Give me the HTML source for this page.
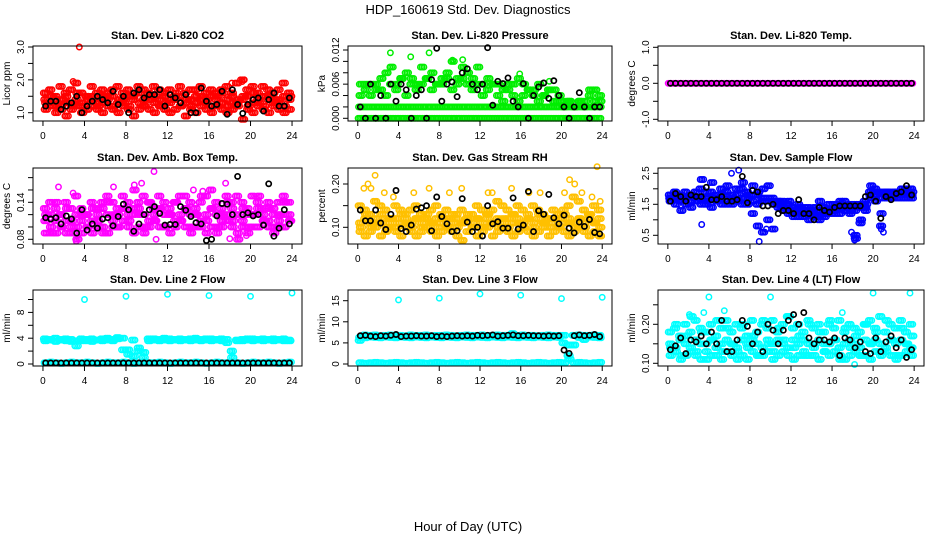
<!DOCTYPE html>
<html><head><meta charset="utf-8"><style>
html,body{margin:0;padding:0;background:#fff;}
svg{display:block;font-family:"Liberation Sans",sans-serif;}
</style></head><body>
<svg id="chart" width="936" height="540" viewBox="0 0 936 540">
<text x="468" y="14" text-anchor="middle" font-size="13">HDP_160619  Std. Dev. Diagnostics</text>
<text x="468" y="531" text-anchor="middle" font-size="13">Hour of Day (UTC)</text>
</svg>
<script>
const hourTicks=[0,4,8,12,16,20,24];
const hourLabels=["0","4","8","12","16","20","24"];
// CO2
const co2A=[1.6,1.7,1.5,1.8,1.6,1.7,1.9,1.6,1.5,1.8,1.6,1.7,1.5,1.7,1.8,1.6,1.7,1.5,1.8,1.7,1.6,1.8,1.7,1.6,1.7,1.5,1.8,1.6,1.7,1.7,1.8,1.6,1.7,1.6,1.7,1.8,1.6,1.9,2.0,1.7,1.8,1.6,1.8,1.7,1.6,1.7,1.9,1.6];
const co2B=[1.4,1.3,1.4,1.2,1.5,1.3,1.4,1.3,1.5,1.4,1.3,1.5,1.4,1.5,1.3,1.4,1.5,1.4,1.6,1.4,1.5,1.3,1.4,1.5,1.3,1.4,1.5,1.3,1.4,1.5,1.4,1.3,1.5,1.4,1.3,1.4,1.5,1.3,1.4,1.5,1.3,1.4,1.5,1.4,1.3,1.4,1.5,1.4];
const co2C=[1.1,1.2,1.0,1.1,0.9,1.1,1.2,1.0,1.1,1.2,1.1,1.0,1.2,1.1,1.0,1.2,1.1,0.9,1.1,1.2,1.1,1.0,1.2,1.1,1.0,1.1,1.2,0.9,1.1,1.0,1.2,1.1,1.0,1.2,1.1,1.0,1.1,1.2,0.8,1.1,1.0,1.2,1.1,1.0,1.2,1.1,1.0,1.1];
const co2D=[1.3,1.5,1.2,1.4,1.3,1.2,1.6,1.2,1.4,1.5,1.2,1.3,1.6,1.2,1.4,1.3,1.2,1.6,1.3,1.2,1.4,1.5,1.2,1.3,1.4,1.6,1.2,1.4,1.2,1.3,1.5,1.4,1.2,1.5,1.6,1.2,1.3,1.4,1.5,1.2,1.6,1.3,1.2,1.5,1.4,1.3,1.2,1.5];
const co2OutHours=[3.5,2.9,18.2,19.2,19.4];
const co2OutVals=[3.0,1.95,1.9,1.95,2.0];
const co2Black=[1.2,1.35,1.35,1.1,1.2,1.3,1.5,1.0,1.2,1.35,1.5,1.4,1.3,1.65,1.25,1.5,1.0,1.6,1.7,1.45,1.55,1.55,1.7,1.2,1.55,1.45,1.3,1.55,1.0,1.0,1.75,1.35,1.2,1.25,1.65,0.95,1.7,1.25,0.98,1.25,1.4,1.45,1.05,1.4,1.6,1.2,1.2,1.45];
// Pressure
const presA=[0,0,0,0,0,0,0,0,0,0,0,0,0,0,0,0,0,0,0,0,0,0,0,0,0,0,0,0,0,0,0,0,0,0,0,0,0,0,0,0,0,0,0,0,0,0,0,0];
const presB=[.002,.002,.002,.002,.002,.002,.002,.002,.002,.002,.002,.002,.002,.002,.002,.002,.002,.002,.002,.002,.002,.002,.002,.002,.002,.002,.002,.002,.002,.002,.002,.002,.002,.002,.002,.002,.002,.002,.002,.002,.002,.002,.002,.002,.002,.002,.002,.002];
const presC=[.004,.005,.004,.006,.005,.004,.006,.005,.007,.004,.006,.005,.006,.007,.005,.006,.006,.007,.005,.006,.007,.006,.005,.006,.004,.005,.006,.004,.003,.005,.004,.003,.004,.005,.004,.003,.004,.005,.003,.003,.002,.003,.002,.003,.002,.004,.003,.004];
const presD=[.006,.006,.006,.005,.007,.008,.009,.006,.007,.008,.007,.006,.009,.007,.008,.006,.007,.008,.010,.007,.009,.008,.007,.009,.006,.007,.006,.006,.005,.006,.006,.007,.006,.005,.005,.006,.004,.005,.005,.004,.003,.003,.002,.003,.003,.005,.005,.003];
const presOutHours=[3.2,5.2,7.0,9.3,10.3,15.9,18.8];
const presOutVals=[.0115,.0108,.0115,.0102,.0103,.0078,.0065];
const presBlack=[.002,0,.006,0,.004,0,.006,.003,.006,.005,0,.004,.005,0,.0068,.0123,.003,.006,.0064,.0038,.008,.0087,.006,.005,.006,.0124,.0023,.0065,.0061,.0071,.003,.002,.0061,0,.004,.0055,.0062,.0035,.0066,.004,.002,0,.002,.0045,.002,0,.002,.002];
// Temp
const tempA=[0,0,0,0,0,0,0,0,0,0,0,0,0,0,0,0,0,0,0,0,0,0,0,0,0,0,0,0,0,0,0,0,0,0,0,0,0,0,0,0,0,0,0,0,0,0,0,0];
const tempBlack=[0,0,0,0,0,0,0,0,0,0,0,0,0,0,0,0,0,0,0,0,0,0,0,0,0,0,0,0,0,0,0,0,0,0,0,0,0,0,0,0,0,0,0,0,0,0,0,0];
// Amb box temp
const ambA=[.13,.14,.13,.12,.14,.13,.15,.13,.12,.14,.13,.14,.15,.14,.13,.15,.14,.13,.14,.15,.14,.13,.15,.14,.13,.14,.15,.15,.14,.13,.14,.15,.16,.14,.13,.15,.14,.15,.14,.13,.15,.14,.13,.14,.13,.14,.15,.14];
const ambB=[.11,.12,.11,.12,.11,.10,.12,.11,.12,.11,.12,.13,.12,.11,.12,.13,.12,.12,.13,.12,.11,.12,.13,.12,.12,.11,.12,.13,.12,.12,.11,.12,.13,.12,.11,.12,.13,.12,.11,.12,.12,.13,.12,.11,.12,.11,.12,.12];
const ambC=[.09,.10,.09,.10,.09,.09,.10,.09,.10,.09,.10,.10,.09,.10,.10,.11,.10,.09,.10,.09,.10,.11,.10,.10,.09,.10,.11,.10,.09,.10,.10,.09,.10,.09,.10,.11,.10,.09,.10,.09,.10,.10,.11,.10,.09,.10,.10,.11];
const ambD=[.12,.09,.14,.10,.13,.11,.08,.12,.10,.13,.11,.09,.14,.12,.10,.13,.11,.16,.12,.10,.14,.11,.13,.10,.12,.14,.11,.13,.10,.12,.15,.11,.13,.10,.12,.14,.11,.08,.13,.10,.12,.15,.11,.13,.10,.12,.14,.11];
const ambOutHours=[1.5,2.9,3.2,6.8,8.8,9.5,10.7,10.9,14.5,15.4,17.6,18.0,19.6];
const ambOutVals=[.165,.155,.077,.165,.168,.171,.19,.08,.16,.158,.171,.081,.086];
const ambBlack=[.115,.113,.115,.105,.118,.113,.09,.128,.095,.105,.098,.113,.115,.102,.117,.137,.128,.093,.105,.12,.128,.133,.122,.103,.104,.104,.133,.127,.117,.107,.105,.078,.08,.118,.138,.137,.12,.182,.12,.123,.118,.12,.103,.17,.085,.098,.128,.105];
// Gas stream RH
const rhA=[.15,.14,.13,.16,.15,.14,.12,.15,.14,.13,.14,.15,.13,.12,.14,.15,.13,.14,.12,.13,.14,.12,.13,.15,.14,.13,.14,.16,.15,.14,.13,.15,.14,.13,.15,.14,.13,.12,.14,.13,.14,.15,.17,.16,.14,.13,.15,.14];
const rhB=[.11,.12,.11,.12,.11,.12,.11,.12,.11,.12,.11,.12,.11,.12,.11,.12,.11,.12,.11,.12,.11,.12,.11,.12,.11,.12,.11,.12,.11,.12,.11,.12,.11,.12,.11,.12,.11,.12,.11,.12,.11,.12,.11,.12,.11,.12,.11,.12];
const rhC=[.09,.08,.09,.10,.08,.09,.10,.09,.08,.10,.09,.08,.09,.10,.09,.08,.09,.10,.09,.08,.07,.09,.10,.08,.09,.10,.08,.09,.10,.09,.08,.09,.10,.09,.08,.09,.10,.08,.09,.10,.09,.08,.09,.10,.09,.08,.09,.08];
const rhD=[.10,.13,.10,.11,.13,.10,.12,.10,.13,.11,.10,.12,.10,.13,.11,.10,.12,.10,.13,.10,.11,.13,.10,.12,.10,.13,.11,.10,.12,.10,.13,.11,.10,.12,.10,.13,.11,.10,.12,.10,.13,.11,.10,.12,.10,.13,.11,.10];
const rhOutHours=[0.6,1.0,1.3,1.7,2.6,3.5,5.5,7.0,9.0,10.2,12.8,13.2,15.1,16.8,17.9,20.3,20.8,21.3,22.0,23.0,23.5,23.8];
const rhOutVals=[.19,.20,.19,.22,.18,.17,.18,.19,.18,.19,.18,.18,.19,.18,.18,.18,.21,.20,.18,.17,.24,.16];
const rhBlack=[.14,.115,.115,.14,.11,.095,.13,.185,.097,.09,.105,.142,.145,.15,.092,.17,.125,.108,.09,.092,.166,.112,.09,.1,.08,.15,.108,.113,.098,.098,.168,.096,.105,.183,.09,.138,.13,.176,.122,.108,.128,.098,.087,.112,.102,.118,.088,.085];
// Sample flow
const sfA=[1.8,1.9,1.8,1.9,1.8,1.9,2.0,1.9,1.9,1.8,2.0,1.9,1.8,2.0,2.0,1.9,1.8,1.8,1.7,1.7,1.7,1.6,1.6,1.5,1.4,1.5,1.4,1.4,1.3,1.3,1.4,1.5,1.5,1.5,1.6,1.5,1.5,1.5,1.6,1.9,2.0,1.9,1.9,1.9,1.9,1.9,2.0,2.0];
const sfB=[1.7,1.7,1.6,1.7,1.6,1.7,1.7,1.7,1.7,1.6,1.7,1.6,1.7,1.6,1.7,1.7,1.6,1.5,1.6,1.6,1.6,1.5,1.4,1.3,1.2,1.3,1.2,1.2,1.2,1.1,1.2,1.3,1.3,1.4,1.4,1.4,1.3,1.4,1.4,1.8,1.8,1.7,1.8,1.8,1.8,1.8,1.8,1.8];
const sfC=[1.6,1.5,1.6,1.5,1.4,1.6,1.5,1.5,1.4,1.6,1.5,1.5,1.5,1.6,1.5,1.5,1.2,0.8,0.6,1.0,0.7,1.4,1.3,1.2,1.1,1.1,1.1,1.0,1.1,1.0,1.1,1.2,1.2,1.2,1.3,1.2,0.5,0.9,1.3,1.7,1.6,0.8,1.7,1.7,1.7,1.7,1.7,1.7];
const sfD=[1.7,1.8,1.3,1.7,1.8,1.7,2.3,1.6,2.2,1.7,1.8,2.1,1.6,1.8,2.2,1.8,2.1,1.9,2.0,2.1,1.5,1.6,1.4,1.6,1.3,1.4,1.3,1.3,1.4,1.6,1.2,1.3,1.4,1.6,1.4,1.3,0.4,1.0,1.5,2.1,1.9,1.2,1.9,1.8,1.9,2.0,1.9,1.9];
const sfOutHours=[3.3,6.2,6.9,8.9,9.6,17.9,18.2,20.8,21.0];
const sfOutVals=[0.85,2.5,2.6,0.3,0.7,0.6,0.35,0.7,0.6];
const sfBlack=[1.6,1.85,1.75,1.6,1.8,1.75,1.75,2.05,1.65,1.65,1.75,1.6,1.6,1.65,2.4,1.55,1.95,1.9,1.45,1.45,1.5,1.2,1.3,1.3,1.2,1.65,1.2,1.2,1.0,1.4,1.3,1.25,1.4,1.45,1.45,1.45,1.45,1.45,1.75,1.8,1.6,1.05,1.75,1.65,1.85,1.9,2.1,1.8];
// Line 2 flow
const l2A=[3.9,3.8,4.0,3.7,3.9,3.8,3.6,3.9,3.8,3.9,3.7,3.9,4.0,3.8,4.1,4.0,2.2,3.7,2.0,1.0,3.9,3.9,3.8,4.0,3.9,3.8,3.9,3.8,3.9,4.0,3.8,3.9,3.9,3.8,3.9,3.8,2.0,3.7,3.8,3.9,3.9,3.8,3.9,3.8,3.9,3.8,3.9,3.7];
const l2B=[3.6,3.7,3.5,3.8,3.6,3.5,2.8,3.6,3.6,3.5,3.7,3.6,3.7,3.6,3.9,2.2,1.5,1.2,2.5,1.8,3.6,3.7,3.6,3.7,3.6,3.7,3.6,3.7,3.6,3.7,3.6,3.7,3.6,3.7,3.6,3.3,1.0,3.6,3.6,3.7,3.6,3.7,3.6,3.7,3.6,3.7,3.6,3.6];
const l2C=[0.2,0.3,0.2,0.1,0.2,0.3,0.2,0.2,0.3,0.2,0.1,0.2,0.3,0.2,0.2,0.3,0.2,0.1,0.2,0.3,0.2,0.2,0.3,0.2,0.1,0.2,0.3,0.2,0.2,0.3,0.2,0.1,0.2,0.3,0.2,0.2,0.3,0.2,0.1,0.2,0.3,0.2,0.2,0.3,0.2,0.1,0.2,0.3];
const l2OutHours=[4,8,12,16,20,24];
const l2OutVals=[10,10.5,10.8,10.6,10.5,11.0];
const l2Black=[0.15,0.15,0.15,0.15,0.15,0.15,0.15,0.15,0.15,0.15,0.15,0.15,0.15,0.15,0.15,0.15,0.15,0.15,0.15,0.15,0.15,0.15,0.15,0.15,0.15,0.15,0.15,0.15,0.15,0.15,0.15,0.15,0.15,0.15,0.15,0.15,0.15,0.15,0.15,0.15,0.15,0.15,0.15,0.15,0.15,0.15,0.15,0.15];
// Line 3 flow
const l3A=[5.6,6.9,6.8,6.9,6.7,6.8,6.9,6.8,6.8,6.7,6.9,6.8,6.8,6.9,6.7,6.8,6.8,6.9,6.8,6.7,6.8,6.9,6.8,6.8,6.9,6.7,6.8,6.9,6.8,6.8,7.2,6.8,6.9,6.8,6.8,6.7,6.8,6.9,6.8,6.8,5.0,2.0,6.8,6.9,6.8,6.8,6.9,6.8];
const l3B=[6.3,6.2,6.4,6.3,6.2,6.4,6.3,6.2,6.4,6.3,6.2,6.4,6.3,6.2,6.4,6.3,6.2,6.4,6.3,6.2,6.4,6.3,6.2,6.4,6.3,6.2,6.4,6.3,6.2,6.4,6.3,6.2,6.4,6.3,6.2,6.4,6.3,6.2,6.4,6.3,6.8,4.5,4.5,6.3,5.8,6.4,6.3,6.2];
const l3C=[0.3,0.2,0.3,0.4,0.3,0.2,0.3,0.4,0.3,0.2,0.3,0.4,0.3,0.2,0.3,0.4,0.3,0.2,0.3,0.4,0.3,0.2,0.3,0.4,0.3,0.2,0.3,0.4,0.3,0.2,0.3,0.4,0.3,0.2,0.3,0.4,0.3,0.2,0.3,0.4,0.3,1.2,0.3,0.4,0.3,0.2,0.3,0.4];
const l3OutHours=[4,8,12,16,20,24];
const l3OutVals=[15.2,15.6,16.6,16.3,15.5,15.8];
const l3Black=[6.7,6.8,6.6,6.5,6.7,6.6,6.8,7.0,6.5,6.6,6.6,6.7,6.6,6.6,6.7,6.5,6.6,6.5,6.6,6.7,6.6,6.7,6.6,6.8,6.7,6.8,6.9,6.6,6.7,6.8,6.9,6.7,6.7,6.8,6.7,6.7,6.6,6.7,6.6,6.7,3.3,2.5,6.7,6.9,6.7,6.8,7.0,6.5];
// Line 4 flow
const l4A=[.18,.19,.17,.2,.18,.21,.19,.18,.2,.17,.19,.21,.18,.2,.19,.17,.21,.18,.2,.19,.21,.18,.2,.22,.19,.2,.18,.21,.19,.2,.18,.2,.19,.21,.18,.2,.19,.18,.2,.21,.19,.22,.18,.2,.19,.21,.18,.2];
const l4B=[.15,.14,.16,.15,.14,.16,.15,.15,.16,.14,.15,.16,.15,.14,.16,.15,.16,.15,.14,.16,.15,.16,.15,.14,.16,.15,.16,.15,.14,.16,.15,.15,.16,.14,.15,.16,.15,.14,.16,.15,.16,.15,.14,.16,.15,.16,.15,.14];
const l4C=[.12,.13,.11,.12,.13,.12,.11,.13,.12,.12,.11,.13,.12,.13,.12,.11,.13,.12,.12,.13,.11,.12,.13,.12,.11,.12,.13,.12,.12,.11,.13,.12,.13,.12,.11,.12,.13,.12,.12,.11,.13,.12,.13,.12,.11,.12,.13,.12];
const l4D=[.14,.2,.12,.17,.22,.13,.18,.11,.16,.21,.13,.19,.15,.11,.2,.14,.17,.12,.21,.15,.13,.19,.16,.22,.14,.17,.12,.2,.15,.18,.13,.21,.16,.11,.19,.14,.17,.12,.2,.15,.18,.13,.21,.16,.12,.19,.15,.17];
const l4OutHours=[4,10,20,23.6,5.5,3.5,17,18.2,2.1];
const l4OutVals=[.27,.27,.28,.28,.235,.23,.23,.097,.225];
const l4Black=[.135,.145,.165,.125,.16,.155,.17,.15,.18,.15,.21,.13,.13,.16,.21,.195,.15,.18,.13,.2,.185,.15,.185,.21,.225,.2,.23,.165,.15,.16,.16,.155,.165,.12,.165,.16,.14,.155,.13,.125,.165,.13,.155,.17,.14,.16,.115,.135];

const NS="http://www.w3.org/2000/svg";
const svg=document.getElementById('chart');
function mk(tag,attrs,parent){const e=document.createElementNS(NS,tag);for(const k in attrs)e.setAttribute(k,attrs[k]);(parent||svg).appendChild(e);return e;}

const cols=[{l:33,r:302},{l:348,r:612},{l:658,r:924}];
const rows=[{t:46,b:121},{t:168,b:244},{t:290,b:366}];
const subSteps=[0,0.17,0.34];

const panels=[
 {key:'co2',c:0,r:0,title:'Stan. Dev. Li-820 CO2',ylab:'Licor ppm',yt:[1,1.5,2,2.5,3],yl:['1.0','','2.0','','3.0'],cal:[1,112.7,3,47],col:'#ff0000',series:[co2A,co2B,co2C,co2D],oh:co2OutHours,ov:co2OutVals,black:co2Black},
 {key:'pressure',c:1,r:0,title:'Stan. Dev. Li-820 Pressure',ylab:'kPa',yt:[0,.002,.004,.006,.008,.01,.012],yl:['0.000','','','0.006','','','0.012'],cal:[0,118.3,.012,50],col:'#00ee00',series:[presA,presB,presC,presD],oh:presOutHours,ov:presOutVals,black:presBlack},
 {key:'temp',c:2,r:0,title:'Stan. Dev. Li-820 Temp.',ylab:'degrees C',yt:[-1,-0.5,0,0.5,1],yl:['-1.0','','0.0','','1.0'],cal:[-1,119.3,1,47.3],col:'#ff00ff',series:[tempA],oh:[],ov:[],black:tempBlack},
 {key:'amb-box-temp',c:0,r:1,title:'Stan. Dev. Amb. Box Temp.',ylab:'degrees C',yt:[.08,.1,.12,.14,.16,.18],yl:['0.08','','','0.14','',''],cal:[.08,239.3,.14,202.3],col:'#ff00ff',series:[ambA,ambB,ambC,ambD],oh:ambOutHours,ov:ambOutVals,black:ambBlack},
 {key:'gas-stream-rh',c:1,r:1,title:'Stan. Dev. Gas Stream RH',ylab:'percent',yt:[.1,.15,.2],yl:['0.10','','0.20'],cal:[.1,227.3,.2,184],col:'#ffb000',series:[rhA,rhB,rhC,rhD],oh:rhOutHours,ov:rhOutVals,black:rhBlack},
 {key:'sample-flow',c:2,r:1,title:'Stan. Dev. Sample Flow',ylab:'ml/min',yt:[.5,1,1.5,2,2.5],yl:['0.5','','1.5','','2.5'],cal:[.5,235.3,2.5,173.3],col:'#0000ff',series:[sfA,sfB,sfC,sfD],oh:sfOutHours,ov:sfOutVals,black:sfBlack},
 {key:'line2-flow',c:0,r:2,title:'Stan. Dev. Line 2 Flow',ylab:'ml/min',yt:[0,2,4,6,8,10],yl:['0','','4','','8',''],cal:[0,364,8,312.4],col:'#00ffff',series:[l2A,l2B,l2C],oh:l2OutHours,ov:l2OutVals,black:l2Black},
 {key:'line3-flow',c:1,r:2,title:'Stan. Dev. Line 3 Flow',ylab:'ml/min',yt:[0,5,10,15],yl:['0','5','10','15'],cal:[0,364,15,300.7],col:'#00ffff',series:[l3A,l3B,l3C],oh:l3OutHours,ov:l3OutVals,black:l3Black},
 {key:'line4-flow',c:2,r:2,title:'Stan. Dev. Line 4 (LT) Flow',ylab:'ml/min',yt:[.1,.15,.2,.25],yl:['0.10','','0.20',''],cal:[.1,363.3,.2,324.3],col:'#00ffff',series:[l4A,l4B,l4C,l4D],oh:l4OutHours,ov:l4OutVals,black:l4Black}
];

panels.forEach(p=>{
 const C=cols[p.c],R=rows[p.r];
 const g=mk('g',{});
 
 
 const xs=h=>C.l+(h+0.96)/25.92*(C.r-C.l);
 const ys=v=>p.cal[1]+(v-p.cal[0])*(p.cal[3]-p.cal[1])/(p.cal[2]-p.cal[0]);
 const t=mk('text',{x:(C.l+C.r)/2,y:R.t-7,'text-anchor':'middle','font-size':'11','font-weight':'bold'},g);
 t.textContent=p.title;
 
 
 const pts=mk('g',{fill:'none',stroke:p.col,'stroke-width':'1.5'},g);
 
 
 p.series.forEach((arr,k)=>{
  arr.forEach((v,i)=>{
   subSteps.forEach(s=>{
    const h=i*24/arr.length+s+k*0.04+0.03;
    const c=mk('circle',{cx:xs(h).toFixed(1),cy:ys(v).toFixed(1),r:'2.7'},pts);
    
    
   });
  });
 });
 p.oh.forEach((h,i)=>{
  const c=mk('circle',{cx:xs(h).toFixed(1),cy:ys(p.ov[i]).toFixed(1),r:'2.7'},pts);
  
  
 });
 if(p.key==='gas-stream-rh'){pts.setAttribute('stroke','#ffc000');}
 const bk=mk('g',{fill:'none',stroke:'#000','stroke-width':'1.7'},g);
 
 
 p.black.forEach((v,i)=>{
  const h=i*24/p.black.length+0.25;
  const c=mk('circle',{cx:xs(h).toFixed(1),cy:ys(v).toFixed(1),r:'2.6'},bk);
  
  
 });
 const box=mk('rect',{x:C.l,y:R.t,width:C.r-C.l,height:R.b-R.t,fill:'none',stroke:'#000','stroke-width':'1'},g);
 
 
 const xa=mk('g',{stroke:'#000','stroke-width':'1'},g);
 
 
 mk('line',{x1:xs(0),x2:xs(24),y1:R.b,y2:R.b},xa);
 hourTicks.forEach((h,i)=>{
  mk('line',{x1:xs(h),x2:xs(h),y1:R.b,y2:R.b+5},xa);
  const tl=mk('text',{x:xs(h),y:R.b+18,'text-anchor':'middle','font-size':'10',stroke:'none',fill:'#000'},xa);
  tl.textContent=hourLabels[i];
  
  
 });
 const ya=mk('g',{stroke:'#000','stroke-width':'1'},g);
 
 
 mk('line',{x1:C.l,x2:C.l,y1:ys(p.yt[0]),y2:ys(p.yt[p.yt.length-1])},ya);
 p.yt.forEach((v,i)=>{
  const y=ys(v);
  mk('line',{x1:C.l-5,x2:C.l,y1:y,y2:y},ya);
  if(p.yl[i]){
   const tl=mk('text',{x:0,y:0,transform:`translate(${C.l-9},${y}) rotate(-90)`,'text-anchor':'middle','font-size':'10',stroke:'none',fill:'#000'},ya);
   tl.textContent=p.yl[i];
   
   
  }
 });
 const yt=mk('text',{x:0,y:0,transform:`translate(${C.l-23},${(R.t+R.b)/2}) rotate(-90)`,'text-anchor':'middle','font-size':'10'},g);
 yt.textContent=p.ylab;
 
 
});
</script>
</body></html>
